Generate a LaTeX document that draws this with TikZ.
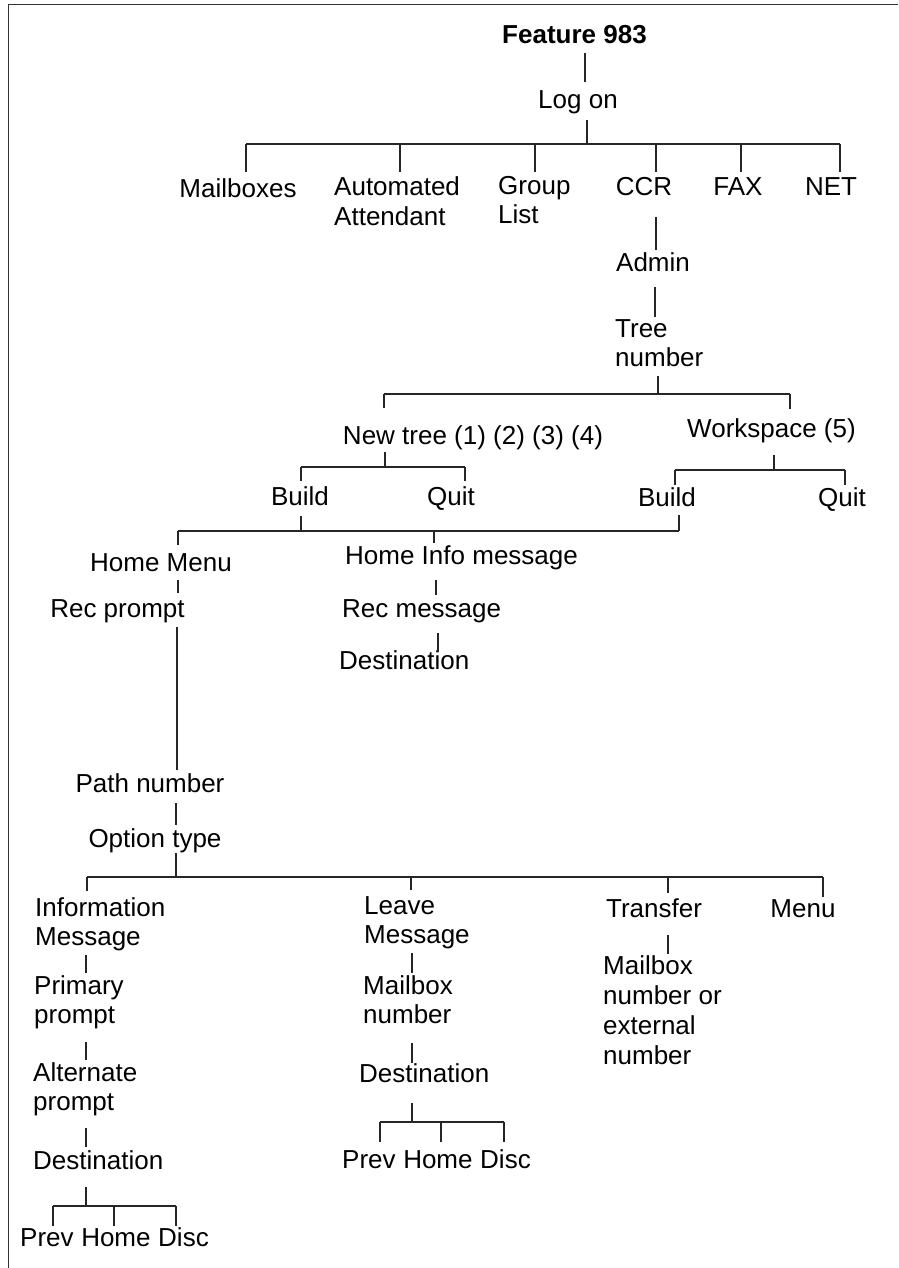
\documentclass[tikz,border=0pt]{standalone}
\usepackage{fontspec}
\setmainfont{Liberation Sans}
% stacked left-aligned lines whose baseline is the first line's baseline
\newcommand{\stackl}[1]{\begin{tabular}[t]{@{}l@{}}#1\end{tabular}}
\begin{document}
\begin{tikzpicture}[x=1pt,y=-1pt,
  lbl/.style={inner sep=0pt, font=\fontsize{26}{29}\selectfont, anchor=base},
  lblw/.style={lbl, anchor=base west},
  wire/.style={line width=1.2pt, draw=black!85},
  frame/.style={line width=1.5pt, draw=black!80}]
\useasboundingbox (0,0) rectangle (898,1268);

% outer frame (left and top edges)
\draw[frame] (8.3,1268) -- (8.3,4.7) -- (898,4.7);

% ---- nodes ----
\node[lbl,font=\fontsize{26}{29}\selectfont\bfseries] (feat) at (574.5,44) {Feature 983};
\node[lbl] (logon) at (578,109) {Log on};
\node[lbl] (mbx) at (238,197) {Mailboxes};
\node[lblw] (auto) at (334,196) {\stackl{Automated\\Attendant}};
\node[lblw] (group) at (498,194) {\stackl{Group\\List}};
\node[lbl] (ccr) at (644,196) {CCR};
\node[lbl] (fax) at (738,196) {FAX};
\node[lbl] (net) at (831,196) {NET};
\node[lbl] (admin) at (653,271) {Admin};
\node[lblw] (tree) at (615,337) {\stackl{Tree\\number}};
\node[lbl] (newtree) at (473,444) {New tree (1) (2) (3) (4)};
\node[lbl] (wsp) at (771.5,437) {Workspace (5)};
\node[lbl] (build1) at (300,505) {Build};
\node[lbl] (quit1) at (451,505) {Quit};
\node[lbl] (build2) at (667,506) {Build};
\node[lbl] (quit2) at (842,506) {Quit};
\node[lbl] (homemenu) at (161,571) {Home Menu};
\node[lblw] (homeinfo) at (345,564) {Home Info message};
\node[lbl] (recprompt) at (117.5,617) {Rec prompt};
\node[lblw] (recmsg) at (342,617) {Rec message};
\node[lblw] (dest0) at (339,669) {Destination};
\node[lbl] (path) at (150,792) {Path number};
\node[lbl] (opt) at (155,847) {Option type};
\node[lblw] (info) at (35,916) {\stackl{Information\\Message}};
\node[lblw] (leave) at (364,914) {\stackl{Leave\\Message}};
\node[lbl] (transfer) at (654,917) {Transfer};
\node[lbl] (menu) at (803,917) {Menu};
\node[lblw] (primary) at (34,994) {\stackl{Primary\\prompt}};
\node[lblw] (alt) at (33,1081) {\stackl{Alternate\\prompt}};
\node[lblw] (dest1) at (33,1169) {Destination};
\node[lblw] (mbxnum) at (363,994) {\stackl{Mailbox\\number}};
\node[lblw] (dest2) at (359,1082) {Destination};
\node[lblw,font=\fontsize{26}{30}\selectfont] (xfer) at (603,974) {\stackl{Mailbox\\number or\\external\\number}};

% end choices under each destination
\node[lblw] (prevA) at (20,1246) {Prev};
\node[lblw] (homeA) at ([xshift=7.2pt]prevA.base east) {Home};
\node[lblw] (discA) at ([xshift=7.2pt]homeA.base east) {Disc};
\node[lblw] (prevB) at (342,1168) {Prev};
\node[lblw] (homeB) at ([xshift=7.2pt]prevB.base east) {Home};
\node[lblw] (discB) at ([xshift=7.2pt]homeB.base east) {Disc};

% ---- connectors ----
% Feature 983 -> Log on -> main menu
\draw[wire] (585,53) -- (585,82);
\draw[wire] (587,120) -- (587,144);
\draw[wire] (246,144) -- (840,144);
\foreach \x in {246,400,535,656,741,840} \draw[wire] (\x,144) -- (\x,172);

% CCR -> Admin -> Tree number
\draw[wire] (656,217) -- (656,250);
\draw[wire] (655,287) -- (655,317);
\draw[wire] (658,376) -- (658,394);
\draw[wire] (384,394) -- (790,394);
\draw[wire] (384,394) -- (384,408);
\draw[wire] (790,394) -- (790,409);

% New tree -> Build / Quit
\draw[wire] (385,452) -- (385,467);
\draw[wire] (301,467) -- (465,467);
\draw[wire] (301,467) -- (301,481);
\draw[wire] (465,467) -- (465,481);

% Workspace -> Build / Quit
\draw[wire] (774,455) -- (774,470);
\draw[wire] (675,470) -- (845,470);
\draw[wire] (675,470) -- (675,485);
\draw[wire] (845,470) -- (845,485);

% both Build entries -> Home Menu / Home Info message
\draw[wire] (301,516) -- (301,531);
\draw[wire] (679,515) -- (679,531);
\draw[wire] (178,531) -- (679,531);
\draw[wire] (178,531) -- (178,545);
\draw[wire] (434,531) -- (434,543);

% Home Menu branch
\draw[wire] (178,580) -- (178,593);
\draw[wire] (177,627) -- (177,770);
\draw[wire] (176,803) -- (176,825);
\draw[wire] (176,853) -- (176,877);

% Home Info message branch
\draw[wire] (436,580) -- (436,595);
\draw[wire] (438,633) -- (438,652);

% Option type -> option kinds
\draw[wire] (87,877) -- (823,877);
\draw[wire] (87,877) -- (87,891);
\draw[wire] (411,877) -- (411,890);
\draw[wire] (668,877) -- (668,893);
\draw[wire] (823,877) -- (823,897);

% Information Message chain
\draw[wire] (86,955) -- (86,973);
\draw[wire] (86,1042) -- (86,1060);
\draw[wire] (86,1128) -- (86,1147);
\draw[wire] (86,1187) -- (86,1206);
\draw[wire] (53,1206) -- (176,1206);
\foreach \x in {53,114,176} \draw[wire] (\x,1206) -- (\x,1226);

% Leave Message chain
\draw[wire] (412,953) -- (412,973);
\draw[wire] (412,1043) -- (412,1063);
\draw[wire] (412,1103) -- (412,1122);
\draw[wire] (380,1122) -- (504,1122);
\foreach \x in {380,441,504} \draw[wire] (\x,1122) -- (\x,1142);

% Transfer
\draw[wire] (668,935) -- (668,954);
\end{tikzpicture}
\end{document}
